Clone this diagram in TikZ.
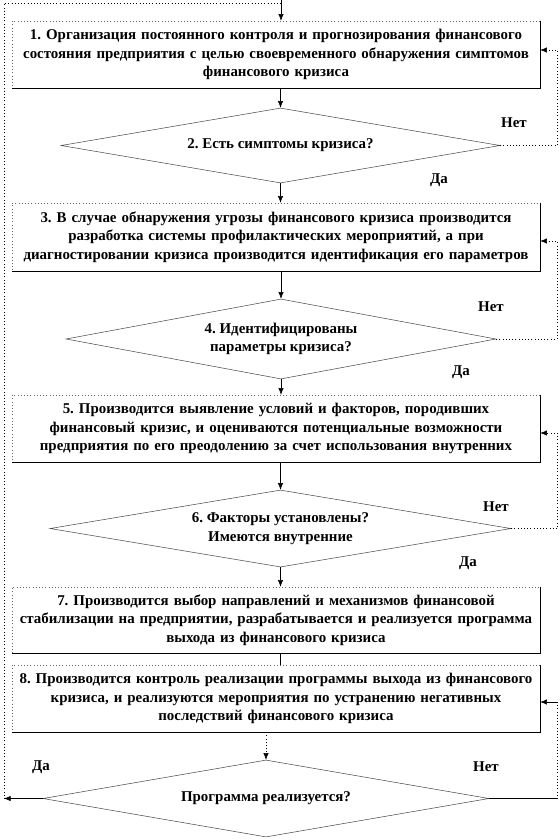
\documentclass[tikz,border=0pt]{standalone}
\usepackage{fontspec}
\setmainfont{Liberation Serif}
\usetikzlibrary{shapes.geometric,arrows.meta}
\frenchspacing

\begin{document}
\begin{tikzpicture}[x=0.75pt, y=-0.75pt, font=\bfseries\fontsize{11.2}{13.9}\selectfont,
  stepbox/.style = {draw=black!60, dotted, rectangle, minimum width=396pt, text width=390pt, align=center, inner sep=3pt},
  test/.style = {draw=black!70, diamond, aspect=6, inner sep=0pt, align=center},
  flow/.style = {-{Latex[length=5pt,width=4pt]}},
  back/.style = {dotted, -{Latex[length=5pt,width=4pt]}},
  lbl/.style = {inner sep=0pt}]
\useasboundingbox (0,0) rectangle (560,840);
\node[stepbox, minimum height=50.25pt] (1) at (276,54.5) {1. Организация постоянного контроля и прогнозирования финансового\\ состояния предприятия с целью своевременного обнаружения симптомов\\ финансового кризиса};
\node[test, minimum width=329.25pt, minimum height=56.25pt] (2) at (280.5,145.5) {2. Есть симптомы кризиса?};
\node[stepbox, minimum height=51pt] (3) at (276,237) {3. В случае обнаружения угрозы финансового кризиса производится\\ разработка  системы профилактических  мероприятий, а при\\ диагностировании кризиса производится идентификация его параметров};
\node[test, minimum width=322.5pt, minimum height=60pt] (4) at (281,339) {4. Идентифицированы\\ параметры кризиса?};
\node[stepbox, minimum height=50.25pt] (5) at (276,428.5) {5. Производится выявление условий и факторов, породивших\\ финансовый кризис, и оцениваются потенциальные возможности\\ предприятия по его преодолению за счет использования внутренних};
\node[test, minimum width=345.75pt, minimum height=57.75pt] (6) at (280.5,528.5) {6. Факторы установлены?\\ Имеются внутренние};
\node[stepbox, minimum height=49.5pt] (7) at (276,620) {7. Производится выбор направлений и механизмов  финансовой\\ стабилизации на предприятии, разрабатывается и реализуется программа\\ выхода из финансового кризиса};
\node[stepbox, minimum height=50.25pt] (8) at (276,698.5) {8. Производится контроль реализации программы выхода из финансового\\ кризиса, и реализуются  мероприятия по устранению негативных\\ последствий финансового кризиса};
\node[test, minimum width=334.5pt, minimum height=57.75pt] (9) at (266,798.5) {Программа реализуется?};
\foreach \n in {1,3,5,7,8}
  \draw (\n.north east) -- (\n.south east) -- (\n.south west);
\node[lbl] (n2) at (514,123) {Нет};
\node[lbl] (y2) at (439,180) {Да};
\node[lbl] (n4) at (491,307) {Нет};
\node[lbl] (y4) at (461,372) {Да};
\node[lbl] (n6) at (496,507) {Нет};
\node[lbl] (y6) at (468,563) {Да};
\node[lbl] (y9) at (41,767) {Да};
\node[lbl] (n9) at (486,767) {Нет};
\coordinate (top) at (281,0);
\coordinate (entry) at (281,3);
\coordinate (lb) at (4,798.5);
\coordinate (r1) at (557,50);
\coordinate (r3) at (557,241);
\coordinate (r5) at (557,433);
\coordinate (r8) at (557,702);
\draw[flow] (top) -- (1.north -| top);
\draw[flow] (1.south -| 2.north) -- (2.north);
\draw[flow] (2.south) -- (3.north -| 2.south);
\draw[flow] (3.south -| 4.north) -- (4.north);
\draw[flow] (4.south) -- (5.north -| 4.south);
\draw[flow] (5.south -| 6.north) -- (6.north);
\draw[flow] (6.south) -- (7.north -| 6.south);
\draw (7.south -| 6.south) -- (8.north -| 6.south);
\draw[back] (8.south -| 9.north) -- (9.north);
\draw[back] (2.east) -| (r1) -- (1.east |- r1);
\draw[back] (4.east) -| (r3) -- (3.east |- r3);
\draw[back] (6.east) -| (r5) -- (5.east |- r5);
\draw (9.east) -- (9.east -| r8);
\draw[dotted] (9.east -| r8) -- (r8);
\draw[flow] (r8) -- (8.east |- r8);
\draw[flow] (9.west) -- (lb);
\draw[dotted] (lb) |- (entry);
\end{tikzpicture}
\end{document}
